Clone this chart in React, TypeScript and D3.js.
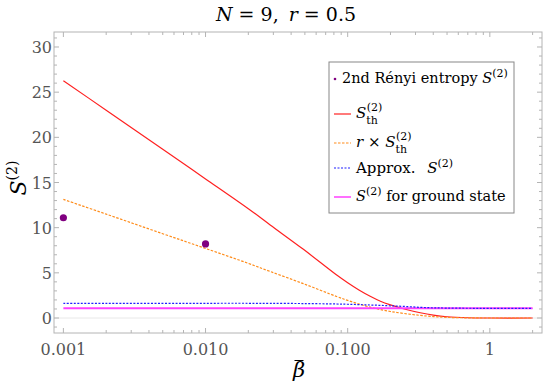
import React from 'react'
import * as d3 from 'd3'

// values
const betaGrid = [0.001, 0.002, 0.005, 0.01, 0.02, 0.0285, 0.0488, 0.0837, 0.1, 0.12, 0.144, 0.17, 0.2, 0.25, 0.324, 0.4, 0.5, 0.7, 1, 2]
const sThermal = [26.27, 23.0, 18.67, 15.4, 12.1, 10.3, 7.6, 4.75, 3.9, 3.1, 2.4, 1.85, 1.45, 1.0, 0.58, 0.32, 0.14, 0.03, 0.0, 0.0]
const sScaled = [13.13, 11.5, 9.33, 7.7, 6.05, 5.15, 3.8, 2.38, 1.95, 1.55, 1.2, 0.93, 0.72, 0.5, 0.29, 0.16, 0.07, 0.015, 0.0, 0.0]
const sApprox = [1.63, 1.63, 1.63, 1.63, 1.63, 1.62, 1.6, 1.55, 1.52, 1.48, 1.44, 1.4, 1.35, 1.28, 1.18, 1.13, 1.1, 1.08, 1.07, 1.07]

const groundBeta = [0.001, 2]
const groundS = [1.07, 1.07]

const renyiBeta = [0.001, 0.01]
const renyiS = [11.1, 8.2]

const xMajor = [0.001, 0.01, 0.1, 1]
const xMajorLabels = ['0.001', '0.010', '0.100', '1']
const yMajor = [0, 5, 10, 15, 20, 25, 30]

const W = 545
const H = 389
const frame = { left: 54, right: 542, top: 32, bottom: 333 }
const serif = "DejaVu Serif"
const frameColor = '#b4b4b4'
const labelColor = '#555'
const font = { fontFamily: serif }

export default function App() {
  const x = d3.scaleLog()
    .domain([Math.pow(10, -3.066), Math.pow(10, 0.367)])
    .range([frame.left, frame.right])
  const y = d3.scaleLinear()
    .domain([-1.66, 31.66])
    .range([frame.bottom, frame.top])

  const line = (xs: number[], ys: number[]) =>
    d3.line<number>()
      .x((d, i) => x(xs[i]))
      .y(d => y(d))
      .curve(d3.curveCatmullRom.alpha(0.5))(ys) || ''

  // minor ticks
  const xMinor: number[] = []
  xMajor.forEach(d => {
    for (let k = 2; k <= 9; k++) {
      const v = d * k
      if (x(v) <= frame.right) xMinor.push(v)
    }
  })
  const yMinor = d3.range(-1, 32).filter(v => v % 5 !== 0 && y(v) >= frame.top && y(v) <= frame.bottom)

  // S with stacked sub "th" and sup "(2)"
  const sTh = (key: string) => [
    <tspan key={key + 's'} fontStyle="italic">S</tspan>,
    <tspan key={key + 'b'} dy={6} fontSize={11}>th</tspan>,
    <tspan key={key + 'p'} dx={-11} dy={-13} fontSize={11}>(2)</tspan>
  ]

  return (
    <svg width={W} height={H} style={{ position: 'absolute', left: 0, top: 0, ...font }}>
      <rect width={W} height={H} fill="#fff" />

      {/* title */}
      <text x={286} y={21} textAnchor="middle" fontSize={19} fill="#000" style={font}>
        <tspan fontStyle="italic">N</tspan> = 9,  <tspan dx={4} fontStyle="italic">r</tspan> = 0.5
      </text>

      {/* zero line */}
      <line x1={frame.left} x2={frame.right} y1={y(0)} y2={y(0)} stroke="#e8e8e8" strokeWidth={1} />

      {/* frame */}
      <rect x={frame.left} y={frame.top} width={frame.right - frame.left} height={frame.bottom - frame.top}
        fill="none" stroke={frameColor} strokeWidth={1} />

      {/* x ticks */}
      {xMajor.map((v, i) => (
        <g key={'xm' + v}>
          <line x1={x(v)} x2={x(v)} y1={frame.bottom} y2={frame.bottom - 5} stroke={frameColor} />
          <line x1={x(v)} x2={x(v)} y1={frame.top} y2={frame.top + 5} stroke={frameColor} />
          <text x={x(v)} y={frame.bottom + 22} textAnchor="middle" fontSize={16} fill={labelColor} style={font}>{xMajorLabels[i]}</text>
        </g>
      ))}
      {xMinor.map(v => (
        <g key={'xn' + v}>
          <line x1={x(v)} x2={x(v)} y1={frame.bottom} y2={frame.bottom - 3} stroke={frameColor} />
          <line x1={x(v)} x2={x(v)} y1={frame.top} y2={frame.top + 3} stroke={frameColor} />
        </g>
      ))}

      {/* y ticks */}
      {yMajor.map(v => (
        <g key={'ym' + v}>
          <line x1={frame.left} x2={frame.left + 5} y1={y(v)} y2={y(v)} stroke={frameColor} />
          <line x1={frame.right} x2={frame.right - 5} y1={y(v)} y2={y(v)} stroke={frameColor} />
          <text x={frame.left - 2} y={y(v) + 6} textAnchor="end" fontSize={16} fill={labelColor} style={font}>{v}</text>
        </g>
      ))}
      {yMinor.map(v => (
        <g key={'yn' + v}>
          <line x1={frame.left} x2={frame.left + 3} y1={y(v)} y2={y(v)} stroke={frameColor} />
          <line x1={frame.right} x2={frame.right - 3} y1={y(v)} y2={y(v)} stroke={frameColor} />
        </g>
      ))}

      {/* axis labels */}
      <text transform="translate(26,178) rotate(-90)" textAnchor="middle" fontSize={22} fill="#000" style={font}>
        <tspan fontStyle="italic">S</tspan>
        <tspan dy={-9} fontSize={14}>(2)</tspan>
      </text>
      <text x={299} y={377} textAnchor="middle" fontSize={21} fontStyle="italic" fill="#000" style={font}>β</text>
      <line x1={294.5} x2={303.5} y1={360.5} y2={360.5} stroke="#000" strokeWidth={1} />

      {/* series */}
      <path d={line(betaGrid, sThermal)} fill="none" stroke="#ff2020" strokeWidth={1.2} />
      <path d={line(betaGrid, sScaled)} fill="none" stroke="#ff8c1a" strokeWidth={1.2} strokeDasharray="2.5,1.5" />
      <path d={line(groundBeta, groundS)} fill="none" stroke="#ff40ff" strokeWidth={2} />
      <path d={line(betaGrid, sApprox)} fill="none" stroke="#1f1fff" strokeWidth={1.2} strokeDasharray="2,1.5" />
      {renyiBeta.map((b, i) => (
        <circle key={'d' + i} cx={x(b)} cy={y(renyiS[i])} r={3.6} fill="#800080" />
      ))}

      {/* legend */}
      <rect x={329} y={62} width={185} height={151} fill="#fff" stroke="#888" strokeWidth={1} />
      <circle cx={335} cy={79} r={1.3} fill="#800080" />
      <text x={342} y={83} fontSize={14.5} fill="#000" style={font}>
        2nd Rényi entropy <tspan fontStyle="italic">S</tspan><tspan dy={-6} fontSize={11}>(2)</tspan>
      </text>

      <line x1={334} x2={351} y1={114} y2={114} stroke="#ff2020" strokeWidth={1.2} />
      <text x={356} y={118} fontSize={15} fill="#000" style={font}>{sTh('a')}</text>

      <line x1={334} x2={351} y1={143} y2={143} stroke="#ff8c1a" strokeWidth={1.2} strokeDasharray="2.5,1.5" />
      <text x={356} y={147} fontSize={15} fill="#000" style={font}>
        <tspan fontStyle="italic">r</tspan> × {sTh('b')}
      </text>

      <line x1={334} x2={351} y1={168} y2={168} stroke="#1f1fff" strokeWidth={1.2} strokeDasharray="2,1.5" />
      <text x={356} y={173} fontSize={15} fill="#000" style={font}>
        Approx.  <tspan dx={7} fontStyle="italic">S</tspan><tspan dy={-6} fontSize={11}>(2)</tspan>
      </text>

      <line x1={334} x2={351} y1={197} y2={197} stroke="#ff40ff" strokeWidth={1.5} />
      <text x={356} y={201} fontSize={14.5} fill="#000" style={font}>
        <tspan fontStyle="italic">S</tspan><tspan dy={-6} fontSize={11}>(2)</tspan><tspan dy={6}> for ground state</tspan>
      </text>
    </svg>
  )
}
